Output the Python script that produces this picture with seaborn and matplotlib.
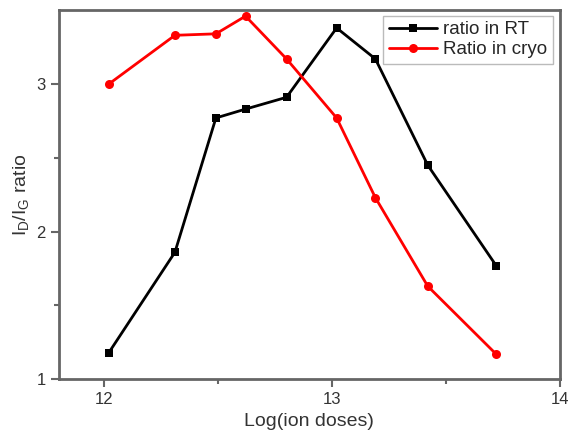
import pandas as pd
import matplotlib
matplotlib.use("Agg")
import matplotlib.pyplot as plt
import seaborn as sns

# values
log_dose = [12.02, 12.31, 12.49, 12.62, 12.80, 13.02, 13.19, 13.42, 13.72]
ratio_rt = [1.18, 1.86, 2.77, 2.83, 2.91, 3.38, 3.17, 2.45, 1.77]
ratio_cryo = [3.00, 3.33, 3.34, 3.46, 3.17, 2.77, 2.23, 1.63, 1.17]

sns.set_style("ticks")
plt.rcParams['font.family'] = ['Liberation Sans', 'DejaVu Sans']
plt.rcParams['mathtext.default'] = 'regular'

df = pd.DataFrame({"dose": log_dose, "rt": ratio_rt, "cryo": ratio_cryo})

fig = plt.figure(figsize=(5.76, 4.44), dpi=100)
ax = fig.add_axes([0.102, 0.146, 0.870, 0.831])

sns.lineplot(data=df, x="dose", y="rt", ax=ax, color="black", marker="s",
             markersize=6, linewidth=2, markeredgewidth=0, label="ratio in RT")
sns.lineplot(data=df, x="dose", y="cryo", ax=ax, color="#ff0000", marker="o",
             markersize=6.5, linewidth=2, markeredgewidth=0, label="Ratio in cryo")

ax.set_xlim(11.8, 14.0)
ax.set_ylim(1.0, 3.5)
ax.set_xticks([12, 13, 14])
ax.set_yticks([1, 2, 3])
ax.set_xticks([12.5, 13.5], minor=True)
ax.set_yticks([1.5, 2.5], minor=True)

for s in ax.spines.values():
    s.set_visible(True)
    s.set_color("#666666")
    s.set_linewidth(2)
ax.tick_params(which="major", direction="out", length=6, width=1.5, color="#666666",
               labelsize=12, labelcolor="#333333")
ax.tick_params(which="minor", direction="out", length=3.5, width=1.5, color="#666666")

ax.set_xlabel("Log(ion doses)", fontsize=14, color="#333333")
ax.set_ylabel(r"I$_D$/I$_G$ ratio", fontsize=14, color="#333333")

leg = ax.legend(loc="upper right", fontsize=13.5, frameon=True, fancybox=False,
                handlelength=2.6, borderpad=0.3, labelspacing=0.15,
                handletextpad=0.3, borderaxespad=0,
                bbox_to_anchor=(0.986, 0.985))
leg.get_frame().set_edgecolor("#aaaaaa")
leg.get_frame().set_linewidth(1)

fig.savefig("out.png", dpi=100)
